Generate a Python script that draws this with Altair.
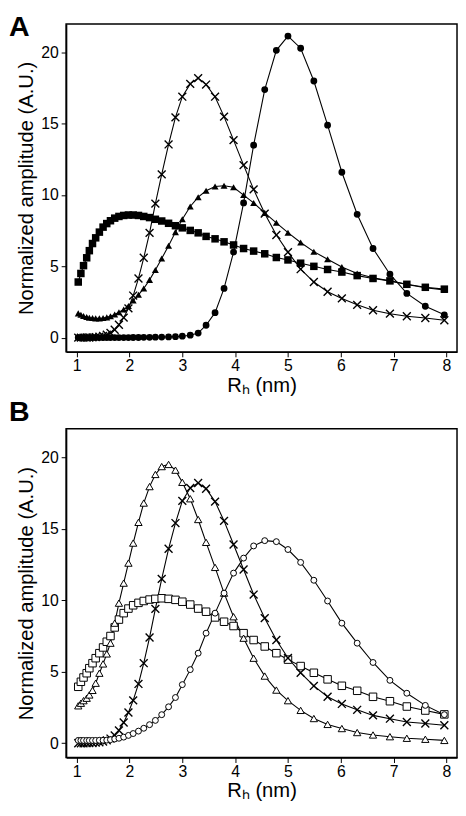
import altair as alt
import pandas as pd

# Hydrodynamic radius grid (nm)
RH = [1.03, 1.08, 1.13, 1.19, 1.24, 1.30, 1.36, 1.43, 1.50, 1.57, 1.64, 1.72, 1.80, 1.89, 1.98,
      2.07, 2.17, 2.27, 2.38, 2.49, 2.61, 2.74, 2.87, 3.00, 3.15, 3.30, 3.45, 3.62, 3.79, 3.97,
      4.16, 4.35, 4.56, 4.78, 5.00, 5.24, 5.49, 5.75, 6.02, 6.31, 6.61, 6.93, 7.25, 7.60, 7.96]

# Panel A
A_circle = [0.0] * 15 + [0.01, 0.01, 0.02, 0.02, 0.03, 0.04, 0.05, 0.07,
            0.10, 0.17, 0.32, 0.87, 1.75, 3.45, 6.0, 9.45, 13.5, 17.4, 20.15, 21.15, 20.3,
            18.0, 14.9, 11.6, 8.65, 6.25, 4.45, 3.1, 2.2, 1.6]
A_cross = [0.0, 0.0, 0.0, 0.01, 0.01, 0.02, 0.04, 0.07, 0.12, 0.2, 0.33, 0.55, 0.9, 1.4, 2.05,
           2.95, 4.15, 5.6, 7.35, 9.4, 11.45, 13.55, 15.45, 16.9, 17.8, 18.2, 17.75, 16.9, 15.5, 13.85,
           12.1, 10.4, 8.7, 7.2, 6.0, 4.8, 3.9, 3.22, 2.75, 2.3, 1.92, 1.68, 1.5, 1.38, 1.22]
A_triangle = [1.7, 1.6, 1.52, 1.45, 1.4, 1.37, 1.35, 1.35, 1.37, 1.42, 1.5, 1.62, 1.78, 1.98, 2.22,
              2.6, 3.0, 3.45, 4.05, 4.75, 5.55, 6.45, 7.4, 8.3, 9.2, 9.85, 10.3, 10.6, 10.65, 10.55,
              10.0, 9.45, 8.75, 8.05, 7.36, 6.67, 6.03, 5.5, 4.95, 4.5, 4.2, 3.98, 3.72, 3.5, 3.35]
A_square = [3.9, 4.5, 5.05, 5.6, 6.1, 6.6, 7.0, 7.4, 7.75, 8.0, 8.2, 8.38, 8.5, 8.57, 8.6,
            8.6, 8.57, 8.5, 8.42, 8.3, 8.18, 8.02, 7.85, 7.7, 7.52, 7.35, 7.1, 6.93, 6.72, 6.5,
            6.25, 6.07, 5.88, 5.62, 5.45, 5.22, 5.0, 4.78, 4.6, 4.35, 4.15, 3.98, 3.74, 3.53, 3.4]

# Panel B
B_circle = [0.2, 0.2, 0.2, 0.2, 0.2, 0.2, 0.2, 0.21, 0.21, 0.22, 0.25, 0.3, 0.35, 0.43, 0.55,
            0.68, 0.85, 1.05, 1.3, 1.6, 2.0, 2.55, 3.2, 4.1, 5.15, 6.3, 7.7, 9.1, 10.5, 11.9,
            12.95, 13.8, 14.17, 14.1, 13.55, 12.65, 11.4, 9.95, 8.4, 7.0, 5.65, 4.4, 3.5, 2.65, 2.0]
B_cross = [0.0, 0.0, 0.0, 0.01, 0.01, 0.02, 0.04, 0.07, 0.12, 0.2, 0.33, 0.55, 0.9, 1.45, 2.15,
           3.0, 4.15, 5.6, 7.4, 9.4, 11.5, 13.6, 15.4, 16.95, 17.85, 18.2, 17.8, 16.9, 15.55, 13.9,
           12.15, 10.4, 8.75, 7.22, 5.96, 4.93, 4.01, 3.25, 2.75, 2.34, 1.95, 1.72, 1.49, 1.38, 1.26]
B_triangle = [2.62, 2.8, 2.98, 3.15, 3.38, 3.7, 4.2, 4.9, 5.55, 6.25, 7.0, 8.4, 9.8, 11.2, 12.6,
              14.0, 15.45, 16.8, 17.95, 18.8, 19.35, 19.5, 19.1, 18.25, 17.1, 15.65, 14.05, 12.3, 10.5, 8.85,
              7.35, 5.95, 4.7, 3.72, 2.98, 2.3, 1.73, 1.32, 1.03, 0.75, 0.58, 0.46, 0.35, 0.28, 0.2]
B_square = [3.95, 4.3, 4.6, 4.9, 5.25, 5.6, 5.95, 6.3, 6.7, 7.1, 7.5, 8.1, 8.65, 9.1, 9.42,
            9.65, 9.82, 9.95, 10.05, 10.1, 10.14, 10.1, 10.03, 9.9, 9.7, 9.42, 9.2, 8.8, 8.5, 8.2,
            7.7, 7.22, 6.77, 6.3, 5.85, 5.4, 4.93, 4.47, 4.02, 3.67, 3.25, 2.94, 2.57, 2.29, 2.02]

X_TICKS = [1, 2, 3, 4, 5, 6, 7, 8]
Y_TICKS = [0, 5, 10, 15, 20]
X_TITLE = "Rₕ (nm)"
Y_TITLE = "Normalized amplitude (A.U.)"

FONT = "Liberation Sans"
CROSS = "M-1,-1L1,1M1,-1L-1,1"
W = 397


def make_df(series):
    rows = []
    for name, vals in series.items():
        for x, y in zip(RH, vals):
            rows.append({"rh": x, "amp": y, "series": name})
    return pd.DataFrame(rows)


def panel(label, series, styles, height, label_y):
    df = make_df(series)
    xenc = alt.X("rh:Q", scale=alt.Scale(domain=[0.8, 8.2], nice=False, zero=False),
                 axis=alt.Axis(values=X_TICKS, title=X_TITLE, format="d"))
    yenc = alt.Y("amp:Q", scale=alt.Scale(domain=[-1, 22], nice=False, zero=False),
                 axis=alt.Axis(values=Y_TICKS, title=Y_TITLE, format="d"))
    base = alt.Chart(df)
    layers = [base.mark_line(color="black", strokeWidth=1.1).encode(x=xenc, y=yenc, detail="series:N")]
    for name, st in styles.items():
        layers.append(
            base.transform_filter(alt.datum.series == name)
            .mark_point(opacity=1, **st)
            .encode(x=xenc, y=yenc)
        )
    lab = alt.Chart(pd.DataFrame({"t": [label]})).mark_text(
        font=FONT, fontSize=29, fontWeight="bold", align="left", baseline="alphabetic", color="black"
    ).encode(text="t:N", x=alt.value(-58), y=alt.value(label_y))
    layers.append(lab)
    return alt.layer(*layers).properties(width=W, height=height)


styles_A = {
    "square": dict(shape="square", filled=True, color="black", size=58),
    "triangle": dict(shape="triangle-up", filled=True, color="black", size=50),
    "cross": dict(shape=CROSS, filled=False, color="black", size=64, strokeWidth=1.4),
    "circle": dict(shape="circle", filled=True, color="black", size=48),
}
styles_B = {
    "square": dict(shape="square", filled=False, fill="white", stroke="black", size=58, strokeWidth=1),
    "triangle": dict(shape="triangle-up", filled=False, fill="white", stroke="black", size=55, strokeWidth=1),
    "cross": dict(shape=CROSS, filled=False, color="black", size=64, strokeWidth=1.4),
    "circle": dict(shape="circle", filled=False, fill="white", stroke="black", size=36, strokeWidth=1),
}

pA = panel("A", {"square": A_square, "triangle": A_triangle, "cross": A_cross, "circle": A_circle},
           styles_A, 333, 12)
pB = panel("B", {"square": B_square, "triangle": B_triangle, "cross": B_cross, "circle": B_circle},
           styles_B, 334, -8)

chart = alt.vconcat(pA, pB, spacing=0).properties(
    padding={"left": 0, "top": -2, "right": 0, "bottom": 0}
).configure_view(stroke="black", strokeWidth=1.5).configure_axis(
    labelFont=FONT, titleFont=FONT, labelFontSize=16, titleFontSize=20.5,
    labelColor="black", titleColor="black", titleFontWeight="normal",
    domainColor="black", domainWidth=1.5, tickColor="black", tickWidth=1, tickSize=5,
    grid=False
).configure_axisX(labelPadding=1, titlePadding=2).configure_axisY(titlePadding=4, labelPadding=3)

chart.save("out.html", embed_options={"renderer": "svg", "actions": False})
